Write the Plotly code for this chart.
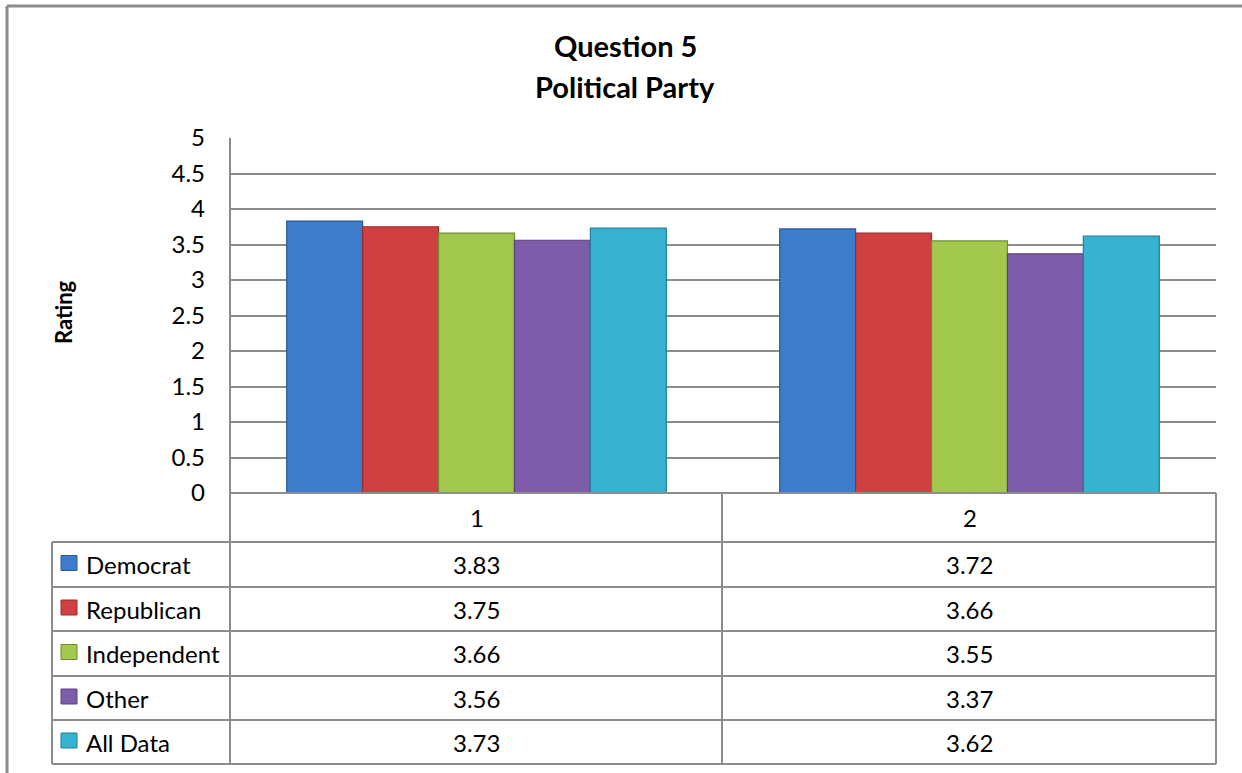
import plotly.graph_objects as go

categories = ["1", "2"]
series_names = ["Democrat", "Republican", "Independent", "Other", "All Data"]
democrat = [3.83, 3.72]
republican = [3.75, 3.66]
independent = [3.66, 3.55]
other = [3.56, 3.37]
all_data = [3.73, 3.62]
y_ticks = [0, 0.5, 1, 1.5, 2, 2.5, 3, 3.5, 4, 4.5, 5]

series_values = [democrat, republican, independent, other, all_data]
colors = ["#3D7BCB", "#CF4140", "#A2C84E", "#7D5DA9", "#38B2D1"]
outlines = ["#2A5A99", "#962E2C", "#6F8C30", "#5A4080", "#217F98"]

W, H = 1242, 773
L, R, T, B = 230, 1216, 138, 493
PW, PH = R - L, B - T

def px(x):
    return (x - L) / PW

def py(y):
    return (B - y) / PH

FONT = "Lato, 'Open Sans', sans-serif"

fig = go.Figure()
for name, vals, c, oc in zip(series_names, series_values, colors, outlines):
    fig.add_trace(go.Bar(
        x=categories, y=vals, name=name,
        marker=dict(color=c, line=dict(color=oc, width=1.2)),
        showlegend=False, hoverinfo="x+y+name",
    ))

line_col = "#8C8C8C"
shapes = []
def hline(y, x0, x1, w=2):
    shapes.append(dict(type="line", xref="paper", yref="paper",
                       x0=px(x0), x1=px(x1), y0=py(y), y1=py(y),
                       line=dict(color=line_col, width=w)))
def vline(x, y0, y1, w=2):
    shapes.append(dict(type="line", xref="paper", yref="paper",
                       x0=px(x), x1=px(x), y0=py(y0), y1=py(y1),
                       line=dict(color=line_col, width=w)))

# outer chart border (top and left)
hline(6, 7, 1242, 3)
vline(7, 6, 773, 3)

# table grid
row_bounds = [542, 587, 631, 676, 720, 764]
hline(493, L, R)
for yy in row_bounds:
    hline(yy, 52, R)
vline(52, 542, 764)
vline(L, T, 764)
vline(722, 493, 764)
vline(R, 493, 764)

def note(text, x, y, size, xref="paper", xanchor="center", angle=0):
    annotations.append(dict(text=text, xref=xref, yref="paper", x=x, y=y,
                            xanchor=xanchor, yanchor="middle", showarrow=False,
                            textangle=angle,
                            font=dict(size=size, color="black", family=FONT)))

annotations = []
# title
note("<b>Question 5</b>", px(625), py(46), 29)
note("<b>Political Party</b>", px(625), py(86), 29)
# y-axis title
note("<b>Rating</b>", px(63), py(312), 22, angle=-90)
# category row
for ci, cat in enumerate(categories):
    note(cat, ci, py(517.5), 24, xref="x")
# table rows
for i, (name, vals, c, oc) in enumerate(zip(series_names, series_values, colors, outlines)):
    yc = (row_bounds[i] + row_bounds[i + 1]) / 2
    note(name, px(84), py(yc), 24, xanchor="left")
    shapes.append(dict(type="rect", xref="paper", yref="paper",
                       x0=px(61), x1=px(77), y0=py(yc - 9), y1=py(yc + 6),
                       fillcolor=c, line=dict(color=oc, width=1)))
    for ci, v in enumerate(vals):
        note(f"{v:.2f}", ci, py(yc), 24, xref="x")

fig.update_layout(
    width=W, height=H,
    margin=dict(l=L, r=W - R, t=T, b=H - B, autoexpand=False),
    paper_bgcolor="white", plot_bgcolor="white",
    barmode="group", bargap=0.23, bargroupgap=0,
    shapes=shapes, annotations=annotations,
    font=dict(family=FONT, color="black"),
    xaxis=dict(type="category", range=[-0.5, 1.5], showticklabels=False,
               showgrid=False, zeroline=False, showline=False, ticks=""),
    yaxis=dict(range=[0, 5], tickvals=y_ticks, ticktext=[f"{t:g}" for t in y_ticks],
               showgrid=True, gridcolor=line_col, gridwidth=2,
               zeroline=False, showline=False, ticks="",
               ticklabelstandoff=24,
               tickfont=dict(size=24, color="black", family=FONT)),
)

fig.write_html("out.html")
